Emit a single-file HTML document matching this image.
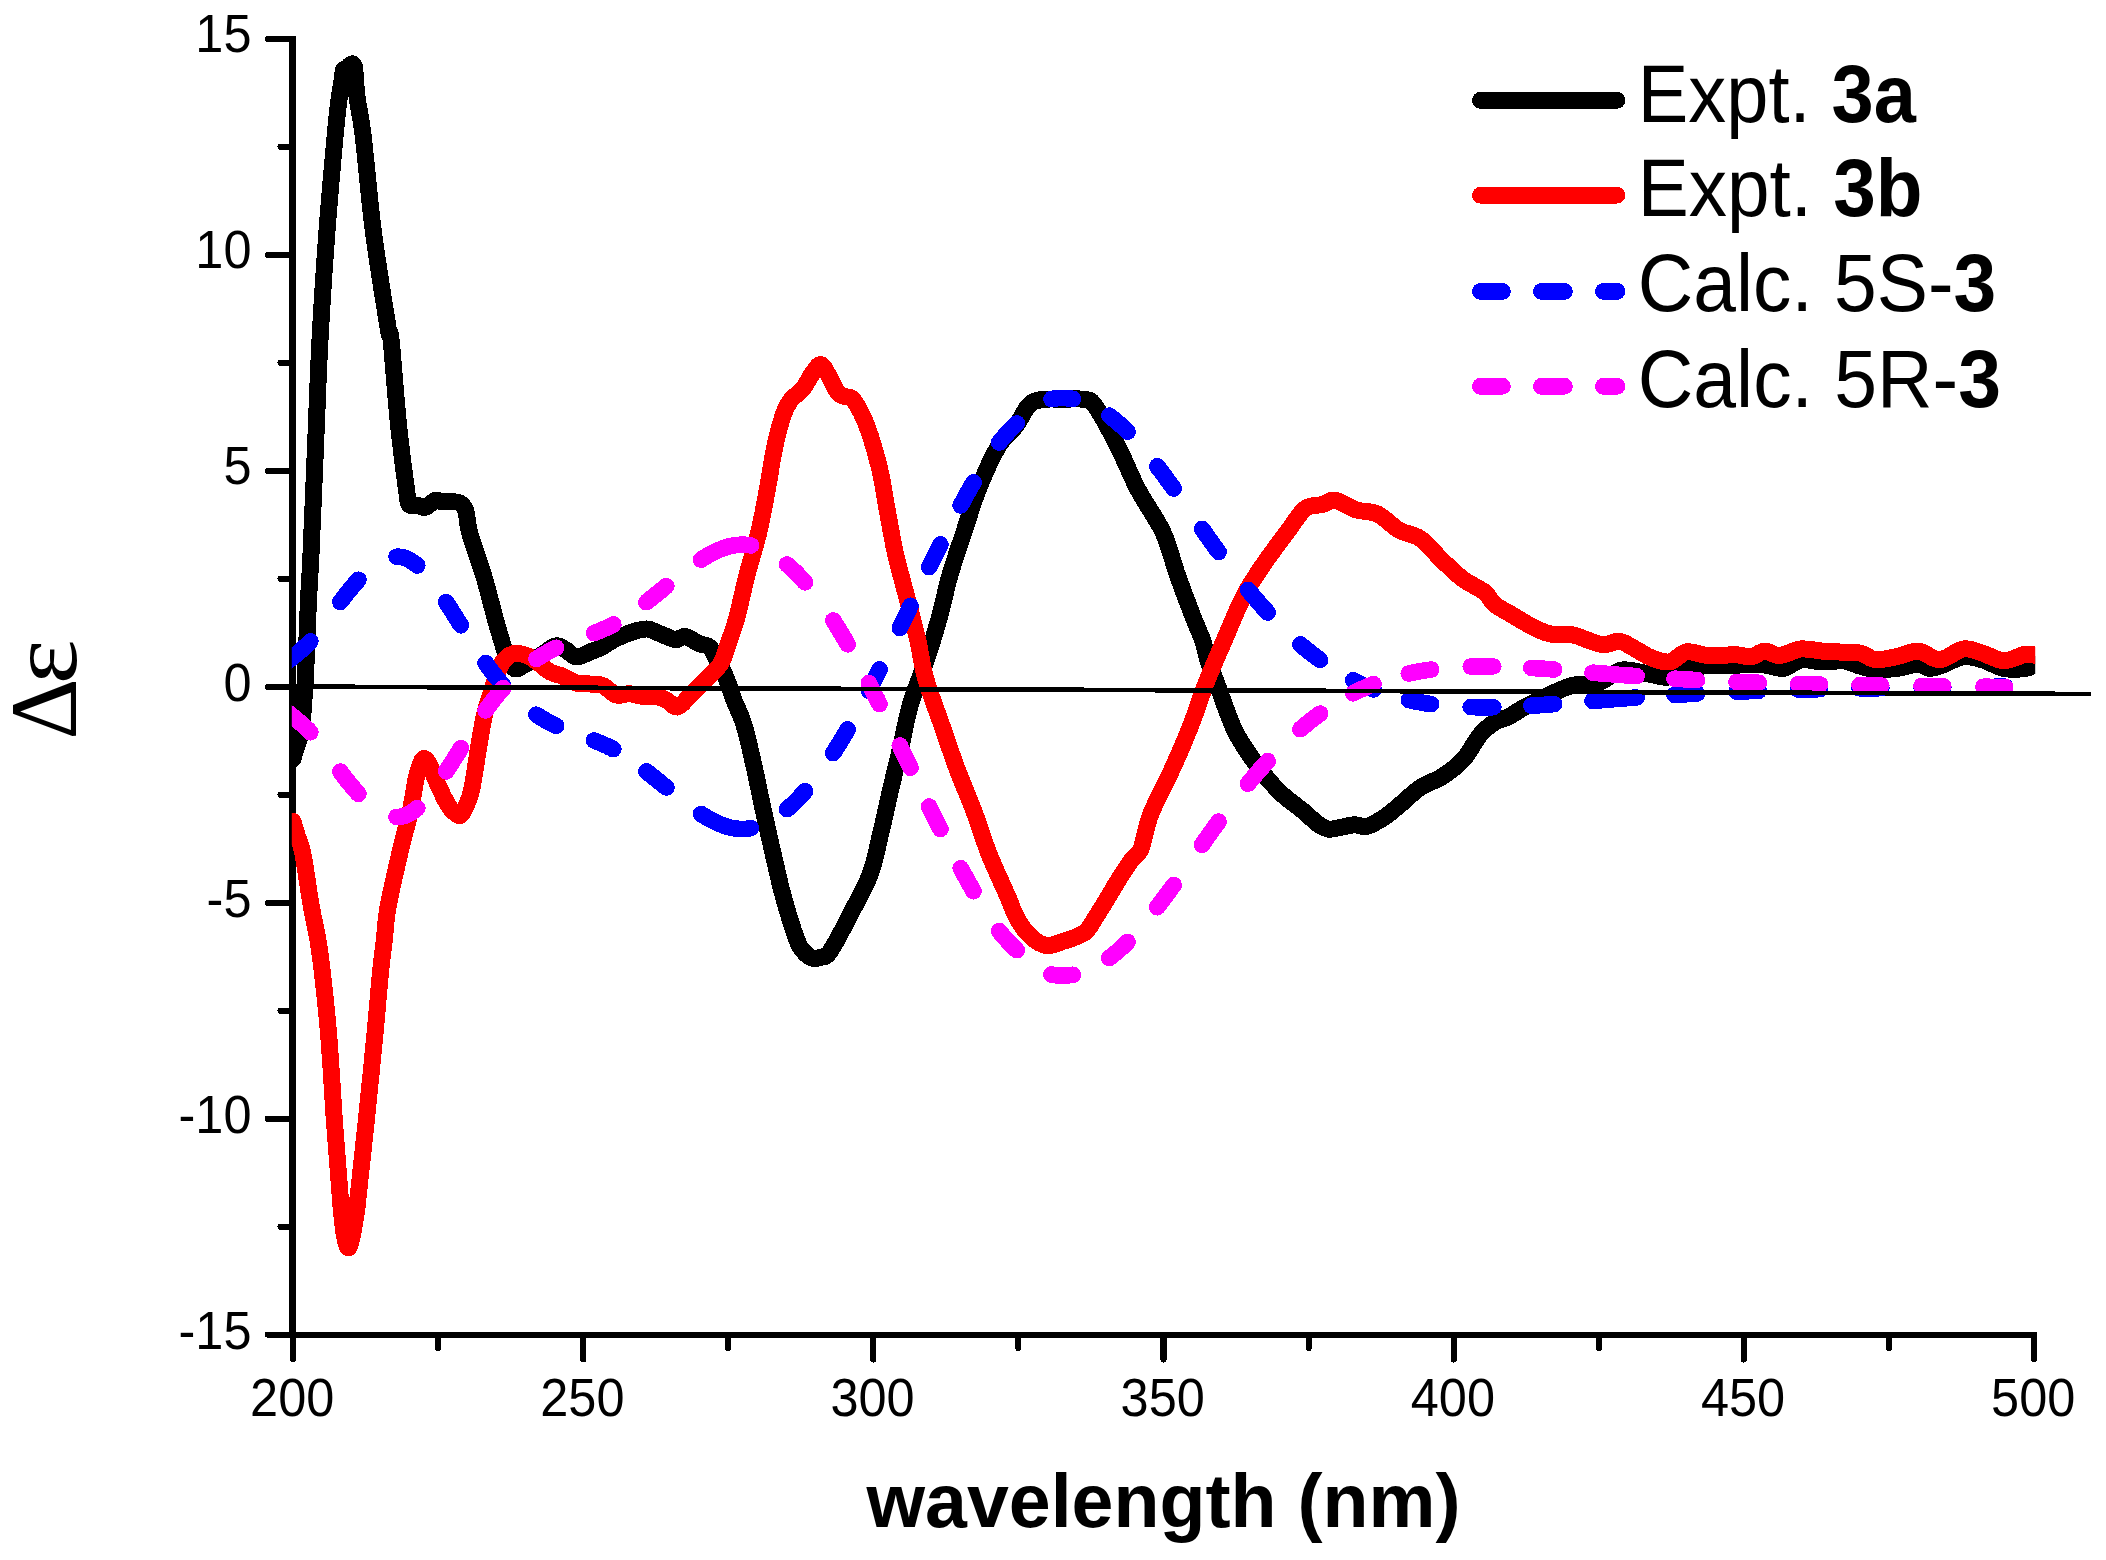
<!DOCTYPE html><html><head><meta charset="utf-8"><title>ECD spectra</title>
<style>html,body{margin:0;padding:0;background:#fff}svg{display:block}text.sym{font-family:"Liberation Serif","DejaVu Serif",serif}text{font-family:"Liberation Sans",sans-serif;fill:#000}</style></head><body>
<svg width="2106" height="1560" viewBox="0 0 2106 1560">
<rect width="2106" height="1560" fill="#fff"/>
<defs><clipPath id="pc"><rect x="291.8" y="0" width="1743.4" height="1560"/></clipPath></defs>
<g stroke="#000" fill="none" shape-rendering="crispEdges">
<path d="M292.7 36V1338" stroke-width="6.6"/>
<path d="M289.4 1335H2037" stroke-width="6.2"/>
</g>
<g clip-path="url(#pc)" fill="none" stroke-linejoin="round" stroke-linecap="round" shape-rendering="crispEdges">
<path d="M293.0 759.0C293.4 757.5 294.4 753.5 295.5 750.0C296.6 746.5 298.4 741.9 299.5 738.0C300.6 734.1 301.2 732.6 301.9 726.9C302.6 721.2 303.0 711.5 303.6 703.8C304.2 696.1 304.8 691.3 305.3 680.7C305.9 670.1 306.4 653.9 306.9 640.4C307.4 626.9 307.8 614.5 308.5 600.0C309.2 585.5 309.8 579.2 311.0 553.7C312.2 528.2 314.0 482.4 315.5 446.8C317.0 411.2 318.1 375.8 320.0 340.0C321.9 304.2 324.4 266.3 326.9 232.3C329.4 198.3 333.1 158.1 335.1 136.0C337.1 114.0 337.8 109.6 339.0 100.0C340.2 90.4 341.6 83.5 342.3 78.5C343.1 73.5 342.7 71.9 343.5 70.2C344.3 68.5 345.9 69.4 347.0 68.5C348.1 67.6 349.0 65.7 350.0 65.0C351.0 64.3 352.3 63.4 353.1 64.2C353.9 65.0 354.1 64.4 354.8 70.0C355.5 75.6 355.7 86.7 357.1 97.7C358.5 108.7 360.5 113.8 363.2 136.2C365.9 158.6 369.3 200.2 373.5 232.3C377.7 264.4 385.3 310.6 388.2 328.5C391.1 346.4 389.4 323.8 391.1 340.0C392.8 356.2 396.0 400.6 398.6 425.5C401.2 450.4 404.7 476.4 406.5 489.6C408.3 502.8 407.2 501.8 409.3 504.5C411.4 507.2 416.2 505.1 418.9 505.6C421.6 506.1 422.5 508.2 425.3 507.3C428.1 506.4 432.8 501.2 435.6 500.3C438.5 499.4 439.8 501.6 442.4 501.8C444.9 502.1 448.0 501.6 450.9 501.8C453.8 502.0 457.0 501.3 459.5 502.8C462.0 504.3 464.2 506.1 465.9 511.0C467.6 515.9 466.6 521.6 469.5 532.3C472.4 543.0 479.2 560.8 483.5 575.0C487.8 589.2 491.8 606.1 495.0 617.8C498.2 629.5 500.7 637.6 503.0 645.0C505.3 652.4 506.9 658.0 509.0 662.0C511.1 666.0 512.8 668.6 515.5 669.0C518.2 669.4 520.9 666.7 525.0 664.5C529.1 662.3 534.9 659.1 540.0 656.0C545.1 652.9 551.3 647.0 555.6 646.0C559.9 645.0 562.5 648.2 566.0 650.0C569.5 651.8 572.4 656.7 576.4 657.0C580.4 657.3 586.0 653.5 590.0 652.0C594.0 650.5 596.1 650.0 600.5 647.7C604.9 645.5 610.7 641.2 616.3 638.5C621.9 635.8 628.9 633.1 634.0 631.5C639.1 629.9 643.2 628.8 647.0 629.0C650.8 629.2 653.7 631.2 657.0 632.5C660.3 633.8 663.6 635.3 666.8 636.5C670.0 637.7 673.0 639.7 676.1 639.7C679.2 639.7 681.6 635.9 685.4 636.5C689.2 637.1 694.7 641.8 698.7 643.5C702.7 645.2 706.5 644.6 709.4 647.0C712.3 649.4 713.8 654.2 716.0 658.0C718.2 661.8 720.6 665.7 722.7 670.0C724.8 674.3 726.5 679.0 728.4 684.0C730.3 689.0 731.3 693.1 733.9 700.0C736.5 706.9 740.8 714.1 744.2 725.5C747.6 736.9 751.3 754.0 754.5 768.2C757.7 782.5 760.4 796.8 763.5 811.0C766.6 825.2 769.8 839.5 773.1 853.7C776.4 867.9 779.4 882.2 783.3 896.4C787.2 910.6 793.1 929.8 796.6 939.1C800.1 948.4 801.2 948.8 804.0 952.0C806.8 955.2 810.2 957.6 813.2 958.4C816.2 959.2 819.5 957.7 822.0 957.0C824.5 956.3 825.5 957.3 828.2 954.1C830.9 950.9 834.6 944.0 838.0 938.0C841.4 932.0 843.2 928.3 848.5 917.8C853.8 907.3 864.5 889.2 869.9 875.0C875.3 860.8 877.5 846.5 881.0 832.3C884.5 818.1 887.3 803.9 890.6 789.6C893.9 775.4 897.6 761.0 900.9 746.8C904.2 732.5 906.3 718.4 910.5 704.1C914.7 689.8 921.2 675.4 926.0 661.0C930.8 646.6 935.3 632.1 939.3 617.8C943.3 603.5 945.9 589.2 950.0 575.0C954.1 560.8 959.2 546.5 963.9 532.3C968.6 518.1 972.5 503.9 978.2 489.6C983.9 475.4 991.8 457.5 998.1 446.8C1004.4 436.1 1011.1 432.5 1016.2 425.5C1021.4 418.5 1024.7 409.3 1029.0 405.0C1033.3 400.7 1036.2 400.5 1041.9 399.5C1047.6 398.5 1055.9 399.2 1063.0 399.2C1070.1 399.2 1079.2 398.3 1084.6 399.5C1090.0 400.7 1089.7 398.3 1095.3 406.2C1100.9 414.1 1110.9 432.9 1118.0 446.8C1125.1 460.7 1130.5 475.4 1138.0 489.6C1145.5 503.9 1156.4 518.1 1163.0 532.3C1169.6 546.5 1172.3 560.8 1177.4 575.0C1182.5 589.2 1189.2 607.0 1193.4 617.8C1197.6 628.6 1200.1 632.9 1202.5 640.0C1204.9 647.1 1205.7 653.4 1208.0 660.5C1210.3 667.6 1212.4 671.9 1216.5 682.7C1220.6 693.5 1227.9 714.8 1232.5 725.5C1237.1 736.2 1239.2 739.0 1244.2 746.8C1249.2 754.6 1256.2 764.7 1262.4 772.5C1268.6 780.3 1274.8 787.4 1281.6 793.8C1288.4 800.2 1296.9 805.9 1303.0 810.9C1309.1 815.9 1313.7 821.0 1318.0 824.0C1322.3 827.0 1324.9 828.5 1328.6 829.1C1332.3 829.7 1335.7 828.2 1340.0 827.5C1344.3 826.8 1349.8 825.0 1354.3 824.8C1358.8 824.6 1362.1 827.5 1367.1 826.3C1372.1 825.1 1378.9 820.8 1384.2 817.4C1389.5 814.0 1393.0 810.6 1399.1 805.6C1405.1 800.6 1413.4 792.2 1420.5 787.4C1427.6 782.6 1434.8 781.4 1441.9 776.8C1449.0 772.2 1456.9 766.7 1463.2 759.7C1469.5 752.7 1474.8 741.2 1480.0 735.0C1485.2 728.8 1489.5 725.4 1494.2 722.4C1499.0 719.4 1503.8 719.2 1508.5 716.8C1513.2 714.4 1518.0 710.8 1522.7 708.2C1527.5 705.6 1532.2 703.5 1537.0 701.1C1541.8 698.7 1545.3 696.6 1551.2 694.0C1557.1 691.4 1564.5 687.4 1572.6 685.4C1580.7 683.4 1591.8 684.6 1600.0 682.0C1608.2 679.4 1613.5 671.2 1622.0 670.0C1630.5 668.8 1643.2 673.3 1651.0 674.5C1658.8 675.7 1662.0 678.1 1668.5 677.0C1675.0 675.9 1682.0 670.0 1689.8 668.0C1697.6 666.0 1707.7 665.7 1715.5 665.2C1723.3 664.7 1731.1 665.4 1736.8 665.2C1742.5 665.0 1744.7 664.1 1749.7 664.1C1754.7 664.1 1761.1 664.5 1766.8 665.2C1772.5 665.9 1778.1 669.3 1783.8 668.4C1789.5 667.5 1794.5 661.0 1800.9 659.9C1807.3 658.8 1815.2 661.8 1822.3 662.0C1829.4 662.2 1837.3 660.2 1843.7 660.9C1850.1 661.6 1855.5 664.9 1860.8 666.3C1866.1 667.7 1869.7 669.1 1875.7 669.5C1881.8 669.9 1890.0 669.3 1897.1 668.4C1904.2 667.5 1913.2 664.1 1918.5 664.1C1923.8 664.1 1925.2 668.2 1929.1 668.4C1933.0 668.6 1936.3 667.2 1942.0 665.2C1947.7 663.2 1956.5 657.6 1963.3 656.7C1970.1 655.8 1975.8 658.0 1982.6 659.9C1989.4 661.8 1996.8 667.0 2003.9 668.4C2011.0 669.8 2020.0 669.1 2025.3 668.4C2030.6 667.7 2034.2 664.8 2036.0 664.1" stroke="#000" stroke-width="17"/>
<path d="M293.0 821.6C293.7 823.8 295.4 829.6 297.0 835.0C298.6 840.4 300.5 841.7 302.9 853.7C305.3 865.7 308.6 891.0 311.4 907.0C314.2 923.0 316.7 929.5 319.5 950.0C322.3 970.5 325.7 1001.5 328.2 1029.7C330.7 1058.0 332.7 1097.0 334.3 1119.5C335.9 1142.0 336.8 1152.4 337.8 1165.0C338.8 1177.6 339.5 1187.7 340.1 1195.0C340.7 1202.3 340.5 1202.2 341.2 1209.0C341.9 1215.8 343.3 1229.5 344.5 1236.0C345.7 1242.5 347.1 1247.8 348.4 1247.8C349.7 1247.8 350.8 1242.5 352.2 1236.0C353.6 1229.5 355.8 1215.8 356.8 1209.0C357.8 1202.2 357.5 1202.3 358.3 1195.0C359.1 1187.7 360.1 1177.6 361.5 1165.0C362.9 1152.4 364.1 1142.0 366.4 1119.5C368.7 1097.0 373.1 1054.1 375.4 1029.7C377.7 1005.3 378.9 988.0 380.4 973.0C381.9 958.0 383.0 951.0 384.3 940.0C385.6 929.0 385.4 921.4 388.0 907.0C390.6 892.6 396.0 869.7 399.7 853.7C403.4 837.7 407.6 823.5 410.3 811.0C413.0 798.5 414.4 786.7 416.0 779.0C417.6 771.3 418.6 768.4 420.0 765.0C421.4 761.6 422.5 758.4 424.2 758.6C425.9 758.8 427.7 761.6 430.0 766.0C432.3 770.4 435.0 778.5 438.0 785.0C441.0 791.5 445.2 800.3 448.0 805.0C450.8 809.7 452.9 811.3 455.0 813.0C457.1 814.7 458.8 816.4 460.6 815.2C462.4 814.0 464.1 810.3 466.0 806.0C467.9 801.7 469.6 799.5 471.7 789.6C473.8 779.7 476.6 759.3 478.7 746.8C480.8 734.3 482.6 723.2 484.5 714.8C486.4 706.4 487.6 703.9 490.0 696.4C492.4 688.9 495.9 676.2 498.6 669.8C501.3 663.4 503.2 660.7 506.0 658.0C508.8 655.3 511.5 653.8 515.2 653.5C518.9 653.2 523.9 654.2 528.0 656.0C532.1 657.8 536.4 661.4 540.0 664.0C543.6 666.6 545.9 669.7 549.8 671.8C553.6 673.9 558.7 674.5 563.1 676.4C567.5 678.3 571.9 681.8 576.4 683.1C580.9 684.4 585.6 683.6 590.0 684.0C594.4 684.4 598.6 683.9 603.0 685.7C607.4 687.5 611.9 693.7 616.3 695.0C620.7 696.3 625.2 693.5 629.6 693.7C634.0 693.9 638.5 696.0 642.9 696.4C647.3 696.8 652.2 695.7 656.2 696.4C660.2 697.1 663.3 698.6 666.8 700.4C670.3 702.2 673.6 707.7 677.4 707.0C681.2 706.3 685.2 700.4 689.4 696.4C693.6 692.4 698.3 687.5 702.7 683.1C707.1 678.7 712.7 673.6 716.0 669.8C719.3 666.0 720.4 664.8 722.4 660.5C724.4 656.2 725.8 650.9 728.2 643.8C730.6 636.7 733.7 629.3 736.8 617.8C739.9 606.3 743.3 589.2 747.0 575.0C750.7 560.8 755.4 546.5 758.8 532.3C762.2 518.1 764.6 503.9 767.3 489.6C770.0 475.4 772.1 459.3 774.8 446.8C777.5 434.3 780.7 422.5 783.3 414.8C785.9 407.1 787.2 404.9 790.5 400.5C793.8 396.1 799.4 392.9 803.0 388.5C806.6 384.1 809.0 378.0 812.0 374.0C815.0 370.0 817.9 364.3 820.7 364.6C823.5 364.9 826.1 371.4 829.0 376.0C831.9 380.6 835.1 389.1 837.8 392.5C840.5 395.9 842.3 395.2 845.0 396.5C847.7 397.8 850.2 395.7 853.8 400.5C857.4 405.3 862.4 414.2 866.7 425.5C871.0 436.8 876.0 453.9 879.5 468.2C883.0 482.4 884.7 496.8 887.4 511.0C890.1 525.2 892.3 539.5 895.5 553.7C898.7 567.9 902.9 582.1 906.6 596.4C910.3 610.7 914.5 625.9 917.6 639.5C920.8 653.1 921.5 663.7 925.5 678.0C929.5 692.3 936.7 710.5 941.9 725.5C947.1 740.5 951.5 754.0 956.8 768.2C962.1 782.5 968.5 796.8 973.9 811.0C979.2 825.2 983.3 839.5 988.9 853.7C994.5 867.9 1003.1 885.7 1007.7 896.4C1012.3 907.1 1013.0 911.2 1016.7 917.8C1020.4 924.4 1025.1 931.4 1030.0 936.0C1034.9 940.6 1040.7 944.6 1046.2 945.5C1051.7 946.4 1056.8 943.4 1063.2 941.3C1069.6 939.2 1079.2 936.6 1084.6 932.7C1089.9 928.8 1091.7 923.1 1095.3 917.8C1098.9 912.5 1102.1 907.1 1106.0 900.7C1109.9 894.3 1114.5 886.1 1118.8 879.3C1123.1 872.5 1128.0 865.0 1131.6 860.1C1135.2 855.2 1138.2 855.0 1140.6 850.0C1143.0 845.0 1144.1 836.5 1146.0 830.0C1147.9 823.5 1147.6 821.3 1152.0 811.0C1156.4 800.7 1166.1 782.5 1172.6 768.2C1179.1 754.0 1185.2 739.8 1190.8 725.5C1196.4 711.2 1200.6 697.0 1206.2 682.7C1211.8 668.5 1218.2 654.4 1224.4 640.0C1230.6 625.6 1237.1 609.0 1243.6 596.4C1250.1 583.8 1256.3 575.1 1263.5 564.4C1270.7 553.7 1280.1 541.6 1287.0 532.3C1293.9 523.0 1299.2 513.4 1305.1 508.8C1311.0 504.2 1317.2 505.9 1322.2 504.5C1327.2 503.1 1329.3 499.4 1335.0 500.3C1340.7 501.2 1349.3 507.6 1356.4 509.9C1363.5 512.2 1370.7 510.7 1377.8 514.1C1384.9 517.5 1392.0 526.1 1399.1 530.2C1406.2 534.3 1413.4 533.7 1420.5 538.7C1427.6 543.7 1434.8 553.3 1441.9 560.1C1449.0 566.9 1456.1 574.0 1463.2 579.3C1470.3 584.6 1479.4 588.0 1484.6 592.1C1489.8 596.2 1490.2 600.8 1494.2 604.2C1498.2 607.7 1503.8 609.9 1508.5 612.8C1513.2 615.6 1518.0 618.6 1522.7 621.3C1527.5 624.0 1532.2 627.0 1537.0 629.1C1541.8 631.2 1545.3 633.2 1551.2 634.1C1557.1 635.0 1566.7 633.8 1572.6 634.8C1578.5 635.8 1581.6 638.1 1586.8 639.8C1592.0 641.5 1598.4 644.5 1603.9 644.8C1609.4 645.0 1614.1 640.5 1619.6 641.3C1625.1 642.1 1631.5 647.1 1636.7 649.8C1641.9 652.5 1645.4 655.6 1650.9 657.6C1656.4 659.6 1663.5 662.9 1669.5 661.9C1675.5 660.9 1680.2 653.0 1686.6 651.9C1693.0 650.8 1699.6 655.0 1707.9 655.5C1716.2 656.0 1729.3 654.6 1736.4 654.8C1743.5 655.0 1746.0 657.5 1750.7 656.9C1755.5 656.3 1760.0 651.4 1764.9 651.2C1769.8 651.0 1774.0 655.9 1780.0 655.5C1786.0 655.1 1793.9 649.7 1800.9 649.0C1808.0 648.3 1815.2 650.6 1822.3 651.1C1829.4 651.6 1837.3 651.9 1843.7 652.2C1850.1 652.6 1855.5 652.0 1860.8 653.2C1866.1 654.5 1869.7 659.2 1875.7 659.7C1881.8 660.2 1890.0 657.9 1897.1 656.5C1904.2 655.1 1911.4 650.6 1918.5 651.1C1925.6 651.6 1932.3 660.1 1939.8 659.7C1947.3 659.4 1956.2 650.1 1963.3 649.0C1970.4 647.9 1975.8 651.2 1982.6 653.2C1989.4 655.2 1996.8 660.5 2003.9 660.7C2011.0 660.9 2020.0 655.2 2025.3 654.3C2030.6 653.4 2034.2 655.2 2036.0 655.4" stroke="#f00" stroke-width="17"/>
<path d="M286.0 662.6L288.0 661.0L290.1 659.3L292.1 657.7L294.1 656.1L296.2 654.4L298.2 652.7L300.2 651.0L302.3 649.2L304.3 647.4L306.3 645.5L308.4 643.5L310.4 641.3 M340.4 602.0L342.4 599.3L344.4 596.6L346.4 594.0L348.4 591.5L350.5 589.0L352.5 586.6L354.5 584.2L356.5 581.9L358.5 579.7 M396.5 556.7L398.6 556.7L400.7 556.9L402.7 557.3L404.8 557.9L406.9 558.7L409.0 559.7L411.1 560.9L413.1 562.3L415.2 563.8L417.3 565.5 M446.2 602.2L448.3 605.4L450.4 608.7L452.5 612.0L454.6 615.3L456.7 618.7L458.8 622.0L460.9 625.3 M485.6 663.1L487.8 666.2L490.0 669.2L492.2 672.1L494.5 675.0L496.7 677.7L498.9 680.4L501.1 683.0L503.3 685.6 M536.4 714.7L538.6 716.1L540.8 717.5L543.0 718.8L545.2 720.1L547.4 721.3L549.6 722.5L551.8 723.7L554.0 724.7L556.2 725.8 M594.0 740.5L596.1 741.3L598.3 742.2L600.4 743.1L602.6 744.0L604.7 745.0L606.9 745.9L609.0 747.0L611.2 748.0L613.3 749.2 M646.4 771.4L648.4 773.0L650.4 774.6L652.4 776.2L654.4 777.8L656.4 779.4L658.4 781.0L660.4 782.6L662.4 784.3L664.4 785.9L666.4 787.5 M701.0 813.9L703.0 815.2L705.0 816.4L707.0 817.6L709.0 818.8L711.0 819.9L713.0 820.9L715.0 821.9L717.0 822.8L719.0 823.7L721.0 824.5L723.0 825.3L725.0 826.0L727.0 826.6L729.0 827.2L731.0 827.7L733.0 828.1L735.0 828.4L737.0 828.7L739.0 828.8L741.0 828.9L743.0 828.9L745.0 828.9L747.0 828.7L749.0 828.5L751.0 828.1 M787.0 809.2L789.0 807.5L791.0 805.7L793.0 803.8L795.0 801.9L797.0 799.9L799.0 797.8L801.0 795.7L803.0 793.5L805.0 791.2 M833.2 753.2L835.3 749.9L837.3 746.6L839.4 743.3L841.5 739.9L843.6 736.4L845.6 732.9L847.7 729.3 M868.8 690.6L870.9 686.4L873.1 682.3L875.2 678.0L877.4 673.8L879.5 669.5 M899.8 628.1L901.9 623.6L904.1 619.2L906.2 614.7L908.4 610.3L910.5 605.8 M929.2 567.1L931.4 562.5L933.7 558.0L935.9 553.5L938.2 549.0L940.4 544.5 M960.7 505.4L962.8 501.5L965.0 497.6L967.1 493.7L969.2 489.9L971.4 486.1L973.5 482.4 M999.1 442.6L1001.3 439.9L1003.5 437.3L1005.7 434.7L1008.0 432.3L1010.2 430.0L1012.4 427.8L1014.6 425.5L1016.8 423.4 M1051.5 399.1L1053.6 398.6L1055.8 398.3L1057.9 398.2L1060.1 398.1L1062.2 398.1L1064.3 398.1L1066.5 398.2L1068.6 398.3L1070.8 398.6L1072.9 398.8 M1109.2 415.6L1111.2 417.1L1113.3 418.8L1115.3 420.4L1117.4 422.2L1119.4 424.0L1121.5 425.8L1123.5 427.7L1125.6 429.7L1127.6 431.7 M1157.2 466.3L1159.3 469.0L1161.3 471.7L1163.4 474.5L1165.5 477.3L1167.5 480.1L1169.6 482.9L1171.6 485.7L1173.7 488.6 M1202.0 528.8L1204.1 531.8L1206.2 534.7L1208.2 537.6L1210.3 540.5L1212.4 543.4L1214.4 546.3L1216.5 549.2L1218.6 552.0 M1248.0 589.9L1250.2 592.5L1252.4 595.1L1254.6 597.7L1256.8 600.2L1258.9 602.7L1261.1 605.2L1263.3 607.7L1265.5 610.1L1267.7 612.5 M1300.4 644.4L1302.6 646.3L1304.8 648.1L1307.0 649.9L1309.2 651.7L1311.3 653.4L1313.5 655.1L1315.7 656.8L1317.9 658.4L1320.1 660.0 M1353.2 680.3L1355.2 681.3L1357.3 682.3L1359.3 683.3L1361.3 684.3L1363.3 685.2L1365.4 686.1L1367.4 686.9L1369.4 687.8L1371.5 688.6L1373.5 689.4 M1408.8 700.1L1410.8 700.5L1412.9 701.0L1414.9 701.4L1416.9 701.8L1419.0 702.1L1421.0 702.5L1423.1 702.8L1425.1 703.2L1427.1 703.5L1429.2 703.8L1431.2 704.1 M1470.7 707.1L1472.8 707.1L1474.8 707.2L1476.9 707.2L1478.9 707.3L1481.0 707.3L1483.0 707.3L1485.1 707.3L1487.1 707.3L1489.2 707.3L1491.2 707.3L1493.3 707.2 M1531.3 705.7L1533.4 705.6L1535.4 705.4L1537.5 705.3L1539.6 705.2L1541.7 705.0L1543.7 704.9L1545.8 704.7L1547.9 704.6L1550.0 704.4L1552.0 704.3L1554.1 704.1 M1592.5 700.9L1594.5 700.8L1596.5 700.6L1598.5 700.4L1600.5 700.3L1602.5 700.1L1604.6 699.9L1606.6 699.8L1608.6 699.6L1610.6 699.5L1612.6 699.3L1614.6 699.1L1616.6 699.0L1618.6 698.8L1620.6 698.7L1622.6 698.5L1624.6 698.4L1626.7 698.2L1628.7 698.1L1630.7 697.9L1632.7 697.8L1634.7 697.6L1636.7 697.5 M1674.5 694.9L1676.5 694.8L1678.6 694.7L1680.6 694.5L1682.7 694.4L1684.7 694.3L1686.8 694.2L1688.8 694.1L1690.9 693.9L1692.9 693.8L1695.0 693.7L1697.0 693.6 M1736.5 691.7L1738.5 691.6L1740.6 691.5L1742.6 691.4L1744.6 691.3L1746.6 691.2L1748.7 691.2L1750.7 691.1L1752.7 691.0L1754.7 690.9L1756.8 690.9L1758.8 690.8 M1798.2 689.6L1800.4 689.6L1802.6 689.5L1804.7 689.5L1806.9 689.4L1809.1 689.4L1811.3 689.3L1813.5 689.3L1815.6 689.2L1817.8 689.2L1820.0 689.1 M1859.5 688.4L1861.7 688.4L1863.9 688.4L1866.0 688.3L1868.2 688.3L1870.4 688.3L1872.6 688.3L1874.8 688.2L1876.9 688.2L1879.1 688.2L1881.3 688.1 M1921.5 687.7L1923.7 687.7L1925.9 687.6L1928.0 687.6L1930.2 687.6L1932.4 687.6L1934.6 687.5L1936.8 687.5L1938.9 687.5L1941.1 687.5L1943.3 687.4 M1983.4 686.9L1985.6 686.9L1987.8 686.9L1989.9 686.8L1992.1 686.8L1994.3 686.8L1996.5 686.7L1998.7 686.7L2000.8 686.7L2003.0 686.6L2005.2 686.6" stroke="#00f" stroke-width="16.6"/>
<path d="M286.0 711.0L288.0 712.6L290.1 714.3L292.1 715.9L294.1 717.5L296.2 719.2L298.2 720.9L300.2 722.6L302.3 724.4L304.3 726.2L306.3 728.1L308.4 730.1L310.4 732.3 M340.4 771.6L342.4 774.3L344.4 777.0L346.4 779.6L348.4 782.1L350.5 784.6L352.5 787.0L354.5 789.4L356.5 791.7L358.5 793.9 M396.5 816.9L398.6 816.9L400.7 816.7L402.7 816.3L404.8 815.7L406.9 814.9L409.0 813.9L411.1 812.7L413.1 811.3L415.2 809.8L417.3 808.1 M446.2 771.4L448.3 768.2L450.4 764.9L452.5 761.6L454.6 758.3L456.7 754.9L458.8 751.6L460.9 748.3 M485.6 710.5L487.8 707.4L490.0 704.4L492.2 701.5L494.5 698.6L496.7 695.9L498.9 693.2L501.1 690.6L503.3 688.0 M536.4 658.9L538.6 657.5L540.8 656.1L543.0 654.8L545.2 653.5L547.4 652.3L549.6 651.1L551.8 649.9L554.0 648.9L556.2 647.8 M594.0 633.1L596.1 632.3L598.3 631.4L600.4 630.5L602.6 629.6L604.7 628.6L606.9 627.7L609.0 626.6L611.2 625.6L613.3 624.4 M646.4 602.2L648.4 600.6L650.4 599.0L652.4 597.4L654.4 595.8L656.4 594.2L658.4 592.6L660.4 591.0L662.4 589.3L664.4 587.7L666.4 586.1 M701.0 559.7L703.0 558.4L705.0 557.2L707.0 556.0L709.0 554.8L711.0 553.7L713.0 552.7L715.0 551.7L717.0 550.8L719.0 549.9L721.0 549.1L723.0 548.3L725.0 547.6L727.0 547.0L729.0 546.4L731.0 545.9L733.0 545.5L735.0 545.2L737.0 544.9L739.0 544.8L741.0 544.7L743.0 544.7L745.0 544.7L747.0 544.9L749.0 545.1L751.0 545.5 M787.0 564.4L789.0 566.1L791.0 567.9L793.0 569.8L795.0 571.7L797.0 573.7L799.0 575.8L801.0 577.9L803.0 580.1L805.0 582.4 M833.2 620.4L835.3 623.7L837.3 627.0L839.4 630.3L841.5 633.7L843.6 637.2L845.6 640.7L847.7 644.3 M868.8 683.0L870.9 687.2L873.1 691.3L875.2 695.6L877.4 699.8L879.5 704.1 M899.8 745.5L901.9 750.0L904.1 754.4L906.2 758.9L908.4 763.3L910.5 767.8 M929.2 806.5L931.4 811.1L933.7 815.6L935.9 820.1L938.2 824.6L940.4 829.1 M960.7 868.2L962.8 872.1L965.0 876.0L967.1 879.9L969.2 883.7L971.4 887.5L973.5 891.2 M999.1 931.0L1001.3 933.7L1003.5 936.3L1005.7 938.9L1008.0 941.3L1010.2 943.6L1012.4 945.8L1014.6 948.1L1016.8 950.2 M1051.5 974.5L1053.6 975.0L1055.8 975.3L1057.9 975.4L1060.1 975.5L1062.2 975.5L1064.3 975.5L1066.5 975.4L1068.6 975.3L1070.8 975.0L1072.9 974.8 M1109.2 958.0L1111.2 956.5L1113.3 954.8L1115.3 953.2L1117.4 951.4L1119.4 949.6L1121.5 947.8L1123.5 945.9L1125.6 943.9L1127.6 941.9 M1157.2 907.3L1159.3 904.6L1161.3 901.9L1163.4 899.1L1165.5 896.3L1167.5 893.5L1169.6 890.7L1171.6 887.9L1173.7 885.0 M1202.0 844.8L1204.1 841.8L1206.2 838.9L1208.2 836.0L1210.3 833.1L1212.4 830.2L1214.4 827.3L1216.5 824.4L1218.6 821.6 M1248.0 783.7L1250.2 781.1L1252.4 778.5L1254.6 775.9L1256.8 773.4L1258.9 770.9L1261.1 768.4L1263.3 765.9L1265.5 763.5L1267.7 761.1 M1300.4 729.2L1302.6 727.3L1304.8 725.5L1307.0 723.7L1309.2 721.9L1311.3 720.2L1313.5 718.5L1315.7 716.8L1317.9 715.2L1320.1 713.6 M1353.2 693.3L1355.2 692.3L1357.3 691.3L1359.3 690.3L1361.3 689.3L1363.3 688.4L1365.4 687.5L1367.4 686.7L1369.4 685.8L1371.5 685.0L1373.5 684.2 M1408.8 673.5L1410.8 673.1L1412.9 672.6L1414.9 672.2L1416.9 671.8L1419.0 671.5L1421.0 671.1L1423.1 670.8L1425.1 670.4L1427.1 670.1L1429.2 669.8L1431.2 669.5 M1470.7 666.5L1472.8 666.5L1474.8 666.4L1476.9 666.4L1478.9 666.3L1481.0 666.3L1483.0 666.3L1485.1 666.3L1487.1 666.3L1489.2 666.3L1491.2 666.3L1493.3 666.4 M1531.3 667.9L1533.4 668.0L1535.4 668.2L1537.5 668.3L1539.6 668.4L1541.7 668.6L1543.7 668.7L1545.8 668.9L1547.9 669.0L1550.0 669.2L1552.0 669.3L1554.1 669.5 M1592.5 672.7L1594.5 672.8L1596.5 673.0L1598.5 673.2L1600.5 673.3L1602.5 673.5L1604.6 673.7L1606.6 673.8L1608.6 674.0L1610.6 674.1L1612.6 674.3L1614.6 674.5L1616.6 674.6L1618.6 674.8L1620.6 674.9L1622.6 675.1L1624.6 675.2L1626.7 675.4L1628.7 675.5L1630.7 675.7L1632.7 675.8L1634.7 676.0L1636.7 676.1 M1674.5 678.7L1676.5 678.8L1678.6 678.9L1680.6 679.1L1682.7 679.2L1684.7 679.3L1686.8 679.4L1688.8 679.5L1690.9 679.7L1692.9 679.8L1695.0 679.9L1697.0 680.0 M1736.5 681.9L1738.5 682.0L1740.6 682.1L1742.6 682.2L1744.6 682.3L1746.6 682.4L1748.7 682.4L1750.7 682.5L1752.7 682.6L1754.7 682.7L1756.8 682.7L1758.8 682.8 M1798.2 684.0L1800.4 684.0L1802.6 684.1L1804.7 684.1L1806.9 684.2L1809.1 684.2L1811.3 684.3L1813.5 684.3L1815.6 684.4L1817.8 684.4L1820.0 684.5 M1859.5 685.2L1861.7 685.2L1863.9 685.2L1866.0 685.3L1868.2 685.3L1870.4 685.3L1872.6 685.3L1874.8 685.4L1876.9 685.4L1879.1 685.4L1881.3 685.5 M1921.5 685.9L1923.7 685.9L1925.9 686.0L1928.0 686.0L1930.2 686.0L1932.4 686.0L1934.6 686.1L1936.8 686.1L1938.9 686.1L1941.1 686.1L1943.3 686.2 M1983.4 686.7L1985.6 686.7L1987.8 686.7L1989.9 686.8L1992.1 686.8L1994.3 686.8L1996.5 686.9L1998.7 686.9L2000.8 686.9L2003.0 687.0L2005.2 687.0" stroke="#f0f" stroke-width="16.6"/>
</g>
<g stroke="#000" fill="none" stroke-linecap="round" stroke-width="6.1" shape-rendering="crispEdges">
<path d="M267.8 1334.6H292M267.8 1118.7H292M267.8 902.8H292M267.8 686.8H292M267.8 470.8H292M267.8 254.9H292M267.8 39.0H292M280.5 1226.7H292M280.5 1010.7H292M280.5 794.8H292M280.5 578.8H292M280.5 362.9H292M280.5 146.9H292M293.0 1336V1359.5M583.2 1336V1359.5M873.3 1336V1359.5M1163.5 1336V1359.5M1453.7 1336V1359.5M1743.8 1336V1359.5M2034.0 1336V1359.5M438.1 1336V1348M728.2 1336V1348M1018.4 1336V1348M1308.6 1336V1348M1598.8 1336V1348M1888.9 1336V1348"/>
</g>
<path d="M268 686.5L2089 694" stroke="#000" stroke-width="4.7" stroke-linecap="round" fill="none" shape-rendering="crispEdges"/>
<g font-size="50.5" text-anchor="end">
<text transform="translate(251.5 1348.6) scale(1 1.045)">-15</text>
<text transform="translate(251.5 1132.7) scale(1 1.045)">-10</text>
<text transform="translate(251.5 916.8) scale(1 1.045)">-5</text>
<text transform="translate(251.5 700.8) scale(1 1.045)">0</text>
<text transform="translate(251.5 483.9) scale(1 1.045)">5</text>
<text transform="translate(251.5 268.0) scale(1 1.045)">10</text>
<text transform="translate(251.5 52.1) scale(1 1.045)">15</text>
</g>
<g font-size="50.5" text-anchor="middle">
<text transform="translate(292.2 1416.2) scale(1 1.045)">200</text>
<text transform="translate(582.4 1416.2) scale(1 1.045)">250</text>
<text transform="translate(872.5 1416.2) scale(1 1.045)">300</text>
<text transform="translate(1162.7 1416.2) scale(1 1.045)">350</text>
<text transform="translate(1452.9 1416.2) scale(1 1.045)">400</text>
<text transform="translate(1743.0 1416.2) scale(1 1.045)">450</text>
<text transform="translate(2033.2 1416.2) scale(1 1.045)">500</text>
</g>
<text x="1163.5" y="1526.5" font-size="75.3" font-weight="bold" text-anchor="middle">wavelength (nm)</text>
<g font-size="95"><text class="sym" transform="translate(76.3 739.5) rotate(-90)">Δ</text><text class="sym" transform="translate(76.3 684.2) rotate(-90) scale(1.124 1.03)">ε</text></g>
<g fill="none" stroke-linecap="round" stroke-width="16.8" shape-rendering="crispEdges">
<path d="M1480.4 100.3H1617" stroke="#000"/>
<path d="M1480.4 195.2H1617" stroke="#f00"/>
<path d="M1480.4 291.4h22M1541.4 291.4h23M1603.4 291.4h13.6" stroke="#00f"/>
<path d="M1480.4 386.3h22M1541.4 386.3h23M1603.4 386.3h13.6" stroke="#f0f"/>
</g>
<g font-size="78.2">
<text transform="translate(1637.8 121.5) scale(0.9695 1.04)">Expt. <tspan font-weight="bold">3a</tspan></text>
<text transform="translate(1637.8 216.2) scale(0.9780 1.04)">Expt. <tspan font-weight="bold">3b</tspan></text>
<text transform="translate(1637.8 311.3) scale(0.9818 1.04)">Calc. 5S-<tspan font-weight="bold">3</tspan></text>
<text transform="translate(1637.8 406.8) scale(0.9835 1.04)">Calc. 5R-<tspan font-weight="bold">3</tspan></text>
</g>
</svg></body></html>
